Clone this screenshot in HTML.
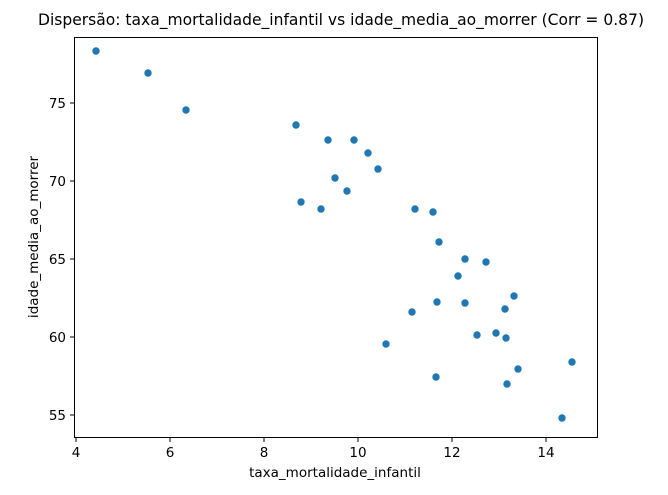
<!DOCTYPE html>
<html><head><meta charset="utf-8"><style>body{margin:0;background:#fff}</style></head><body>
<svg width="668" height="490" xmlns="http://www.w3.org/2000/svg" font-family="DejaVu Sans, Liberation Sans, sans-serif">
<rect width="668" height="490" fill="#fff"/>
<text x="341" y="25" font-size="16" text-anchor="middle" textLength="606" lengthAdjust="spacingAndGlyphs">Dispersão: taxa_mortalidade_infantil vs idade_media_ao_morrer (Corr = 0.87)</text>
<rect x="74.5" y="37.5" width="523" height="400" fill="none" stroke="#000" stroke-width="1"/>
<g stroke="#000" stroke-width="1">
<line x1="76" y1="438" x2="76" y2="442"/><line x1="170" y1="438" x2="170" y2="442"/><line x1="264" y1="438" x2="264" y2="442"/><line x1="358" y1="438" x2="358" y2="442"/><line x1="452" y1="438" x2="452" y2="442"/><line x1="546" y1="438" x2="546" y2="442"/>
<line x1="70" y1="103" x2="74" y2="103"/><line x1="70" y1="181" x2="74" y2="181"/><line x1="70" y1="259" x2="74" y2="259"/><line x1="70" y1="337" x2="74" y2="337"/><line x1="70" y1="415" x2="74" y2="415"/>
</g>
<g font-size="13.5" text-anchor="middle">
<text x="76" y="457">4</text><text x="170" y="457">6</text><text x="264" y="457">8</text><text x="358" y="457">10</text><text x="452" y="457">12</text><text x="546" y="457">14</text>
</g>
<g font-size="13.5" text-anchor="end">
<text x="66" y="108">75</text><text x="66" y="186">70</text><text x="66" y="264">65</text><text x="66" y="342">60</text><text x="66" y="420">55</text>
</g>
<text x="335" y="477" font-size="13.5" text-anchor="middle">taxa_mortalidade_infantil</text>
<text transform="translate(38,237) rotate(-90)" font-size="13.5" text-anchor="middle">idade_media_ao_morrer</text>
<g fill="#1f77b4">
<circle cx="96" cy="51" r="3.7"/><circle cx="148" cy="73" r="3.7"/><circle cx="186" cy="110" r="3.7"/><circle cx="296" cy="125" r="3.7"/><circle cx="328" cy="140" r="3.7"/><circle cx="354" cy="140" r="3.7"/><circle cx="368" cy="153" r="3.7"/><circle cx="378" cy="169" r="3.7"/><circle cx="335" cy="178" r="3.7"/><circle cx="347" cy="191" r="3.7"/><circle cx="301" cy="202" r="3.7"/><circle cx="321" cy="209" r="3.7"/><circle cx="415" cy="209" r="3.7"/><circle cx="433" cy="212" r="3.7"/><circle cx="439" cy="242" r="3.7"/><circle cx="465" cy="259" r="3.7"/><circle cx="486" cy="262" r="3.7"/><circle cx="458" cy="276" r="3.7"/><circle cx="514" cy="296" r="3.7"/><circle cx="437" cy="302" r="3.7"/><circle cx="465" cy="303" r="3.7"/><circle cx="505" cy="309" r="3.7"/><circle cx="412" cy="312" r="3.7"/><circle cx="477" cy="335" r="3.7"/><circle cx="496" cy="333" r="3.7"/><circle cx="506" cy="338" r="3.7"/><circle cx="386" cy="344" r="3.7"/><circle cx="436" cy="377" r="3.7"/><circle cx="507" cy="384" r="3.7"/><circle cx="518" cy="369" r="3.7"/><circle cx="572" cy="362" r="3.7"/><circle cx="562" cy="418" r="3.7"/>
</g>
</svg>
</body></html>
